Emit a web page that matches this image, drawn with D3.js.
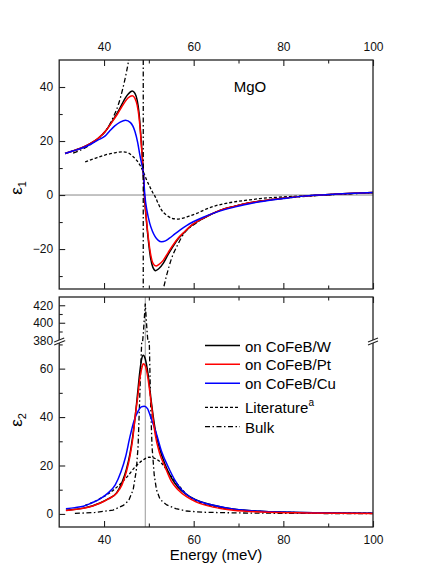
<!DOCTYPE html>
<html>
<head>
<meta charset="utf-8">
<script src="https://cdn.jsdelivr.net/npm/d3@7"></script>
<style>
  body { margin: 0; background: #fff; }
  svg { font-family: Arial, "Liberation Sans", sans-serif; }
</style>
</head>
<body>
<div id="chart"></div>
<script>

const e1W = [[31.3,15.4],[33,16.3],[34.8,17.3],[36.8,18.9],[38.7,21],[40.3,23.6],[41.7,27.0],[43,30.5],[43.9,33.3],[44.7,35.8],[45.4,37.4],[46.3,38.5],[46.9,37.6],[47.4,35.0],[47.8,30.5],[48.1,24.5],[48.4,17.5],[48.75,8.6],[49.0,0],[49.4,-8.5],[49.9,-17],[50.4,-23.5],[50.9,-26.8],[51.5,-28],[52.2,-27.3],[53.2,-25.3],[54.3,-22],[55.4,-19],[56.5,-16.3],[57.7,-14.2],[59.9,-10.8],[61.1,-9.6],[63.6,-7.4],[66,-5.6],[68.8,-4.3],[72.5,-2.9],[76.3,-1.9],[80,-1.2],[84,-0.5],[88,0],[92,0.35],[96,0.65],[100,0.9]];
const e1Pt = [[31.3,15.4],[33,16.3],[34.8,17.3],[36.8,18.9],[38.7,21],[40.3,23.6],[41.7,26.8],[43,30],[43.9,32.5],[44.7,34.6],[45.4,36],[46.3,36.8],[46.9,35.8],[47.4,33.2],[47.8,29],[48.1,23.5],[48.4,17],[48.75,8.6],[49.0,0.5],[49.4,-8],[49.9,-16],[50.4,-22],[50.9,-25.2],[51.6,-26.3],[52.2,-25.8],[53.2,-24.2],[54.3,-21.3],[55.4,-18.5],[56.5,-16],[57.7,-14],[59.9,-10.7],[61.1,-9.5],[63.6,-7.3],[66,-5.6],[68.8,-4.3],[72.5,-2.9],[76.3,-1.9],[80,-1.2],[84,-0.5],[88,0],[92,0.35],[96,0.65],[100,0.9]];
const e1Cu = [[31.3,15.4],[33,16.3],[34.8,17.2],[36.8,18.6],[38.7,20.4],[40.2,21.8],[41.3,23.8],[42.4,25.6],[43.6,27],[44.8,27.7],[45.9,26.8],[46.9,23.5],[47.5,19.5],[48.0,14.8],[48.4,11.5],[48.75,8.6],[49.1,0],[49.6,-6],[50.2,-10.5],[50.8,-13.4],[51.4,-15.4],[52.1,-16.8],[52.85,-17.3],[53.7,-17],[54.6,-16],[55.8,-14.4],[57,-12.9],[58.4,-11.3],[59.9,-9.9],[62,-8.3],[64.3,-6.8],[66.9,-5.4],[69.6,-4.3],[72.2,-3.3],[74.8,-2.5],[80,-1.3],[84,-0.5],[88,0],[92,0.35],[96,0.65],[100,0.9]];
const e1Lit = [[35.8,12.3],[38,13.6],[40.2,14.8],[42.3,15.6],[44.3,16.0],[45.5,15.5],[46.5,14.2],[47.3,12.8],[48,11.1],[48.75,8.6],[49.5,5.6],[50.2,3.1],[50.8,1.1],[51.4,-0.6],[52.1,-3.2],[52.85,-5.6],[53.9,-7.4],[55.1,-8.6],[56.2,-8.9],[57.3,-8.7],[59,-7.8],[60.7,-6.8],[62.5,-5.4],[64.4,-4.2],[66.9,-3.2],[69.6,-2.4],[72.5,-1.8],[74.8,-1.3],[78,-0.9],[83.7,-0.4],[88,-0.05],[92,0.3],[96,0.6],[100,0.9]];
const e1BulkLow = [[33.1,15.5],[35,16.8],[37,18.7],[39,21.3],[40.5,24],[42,28.6],[43.2,33.5],[44.2,39.5],[45,45.5],[45.6,51],[46,56]];
const e1BulkHigh = [[52.8,-38],[53.2,-35],[54,-29.5],[55,-23.8],[56.5,-18.2],[58,-13.8],[60,-11.0],[62.5,-8.3],[65,-6.3],[70,-3.8],[75,-2.2],[80,-1.2],[85,-0.5],[90,0.05],[95,0.45],[100,0.8]];
const bulkPole = 48.75;

/* eps2 (imaginary part) */
const e2W = [[31.5,1.5],[33.5,1.9],[35.4,2.4],[37.5,3.4],[39.1,4.5],[41,6.3],[42.8,8.7],[44,13],[45,18.5],[45.8,25],[46.4,32],[47,41],[47.5,50],[48,59],[48.4,64],[48.75,65.5],[49.2,64],[49.8,58],[50.5,47],[51.4,35],[52.4,27],[53.6,20.5],[55,15],[56.5,11],[58.4,8.0],[60.3,6.0],[64.4,3.6],[68.8,2.0],[75,1.1],[83.7,0.55],[100,0.25]];
const e2Pt = [[31.5,1.4],[33.5,1.8],[35.4,2.3],[37.5,3.3],[39.1,4.4],[41,6.2],[42.8,8.5],[44,12],[45,17.5],[45.8,24],[46.4,31],[47,41],[47.5,48],[48,56],[48.4,60],[48.75,62],[49.2,61.2],[49.8,56],[50.5,46],[51.4,33],[52.4,25],[53.6,19.5],[55,13.5],[56.5,10],[58.4,7.1],[60.5,5],[64.4,2.8],[68.8,1.5],[75,0.8],[85,0.4],[100,0.2]];
const e2Cu = [[31.5,2.1],[33.5,2.6],[35.4,3.2],[37.2,4.5],[39.1,6.2],[41,8.8],[42.5,12],[43.8,17.5],[44.8,23.5],[45.8,32],[46.7,38.5],[47.6,42.5],[48.3,44.2],[49.0,44.5],[49.7,43.5],[50.5,39.5],[51.7,33],[52.8,26],[54.3,19.5],[55.8,14],[57.3,10],[58.8,7.5],[60.3,5.9],[62.5,4.4],[64.4,3.6],[68.8,2.0],[75,1.1],[83.7,0.55],[100,0.25]];
const e2Lit = [[35.8,3.5],[37.5,4.8],[39.3,6.5],[42.2,10],[45,15],[47,19.5],[48.5,22],[50.1,23.4],[51.5,22.8],[52.9,20.8],[55,15.5],[57,11],[58.8,7.5],[61.8,4.5],[65,2.8],[70,1.6],[80,0.7],[90,0.4],[100,0.3]];
const e2Bulk = [[33.5,0.2],[38,0.6],[42,1.6],[44.3,3.5],[45.5,5.5],[46.5,10],[47.2,18],[47.6,28],[48.0,50],[48.4,71],[48.6,200],[48.8,390],[49.2,422],[49.6,390],[49.8,200],[50.1,71],[50.4,45],[50.7,28],[51.2,16],[51.7,10],[52.5,6],[54,3.7],[56,2.2],[58.4,1.2],[62,0.7],[70,0.4],[80,0.25],[100,0.1]];
const e2Center = 49.2;

const xMajor = [40, 60, 80, 100];
const xMinor = [50, 70, 90];
const y1Major = [-20, 0, 20, 40];
const y1Minor = [-30, -10, 10, 30];
const y2LoMajor = [0, 20, 40, 60];
const y2LoMinor = [10, 30, 50, 70];
const y2HiMajor = [380, 400, 420];
const y2HiMinor = [390, 410];

const legendNames = ["on CoFeB/W", "on CoFeB/Pt", "on CoFeB/Cu", "Literature", "Bulk"];

/* layout */
let W = 436, H = 564;
let pL = 59.2, pR = 373;
let top1 = 60, bot1 = 289;
let top2 = 297, bot2 = 527, brk = 342;

const dashed = "3,2";
const dashDot = "5,2.5,1.5,2.5";

let x = d3.scaleLinear().domain([30, 100]).range([pL, pR]);
let y1 = d3.scaleLinear().domain([-34.8, 50]).range([bot1, top1]);
let y2lo = d3.scaleLinear().domain([-5.4, 71]).range([bot2, brk]);
let y2hi = d3.scaleLinear().domain([378, 430]).range([brk, top2 - 0.5]);

// broken axis: lower and upper segments meet at the break line
function y2(v) {
  if (v <= 71) return y2lo(v);
  if (v >= 378) return y2hi(v);
  return brk;
}

let svg = d3.select("#chart").append("svg")
  .attr("width", W).attr("height", H);

let defs = svg.append("defs");
defs.append("clipPath").attr("id", "clip1")
  .append("rect").attr("x", pL).attr("y", top1).attr("width", pR - pL).attr("height", bot1 - top1);
defs.append("clipPath").attr("id", "clip2")
  .append("rect").attr("x", pL).attr("y", top2).attr("width", pR - pL).attr("height", bot2 - top2);

/* ---------- top panel ---------- */
let g1 = svg.append("g").attr("clip-path", "url(#clip1)");

g1.append("line")
  .attr("x1", pL).attr("x2", pR).attr("y1", y1(0)).attr("y2", y1(0))
  .attr("stroke", "#888").attr("stroke-width", 1);

let line1 = d3.line().x(d => x(d[0])).y(d => y1(d[1])).curve(d3.curveMonotoneX);

let top1Series = [
  {data: e1Lit, color: "#000", dash: dashed, w: 1.3},
  {data: e1BulkLow, color: "#000", dash: dashDot, w: 1.3},
  {data: e1BulkHigh, color: "#000", dash: dashDot, w: 1.3},
  {data: e1W, color: "#000", dash: null, w: 1.5},
  {data: e1Pt, color: "#ff0000", dash: null, w: 1.5},
  {data: e1Cu, color: "#0000ff", dash: null, w: 1.5}
];
top1Series.forEach(s => {
  g1.append("path").datum(s.data)
    .attr("d", line1)
    .attr("fill", "none")
    .attr("stroke", s.color)
    .attr("stroke-width", s.w)
    .attr("stroke-dasharray", s.dash);
});

g1.append("line")
  .attr("x1", x(bulkPole)).attr("x2", x(bulkPole))
  .attr("y1", top1).attr("y2", bot1)
  .attr("stroke", "#000").attr("stroke-width", 1.3)
  .attr("stroke-dasharray", dashDot);

/* ---------- bottom panel ---------- */
let g2 = svg.append("g").attr("clip-path", "url(#clip2)");

g2.append("line")
  .attr("x1", x(e2Center)).attr("x2", x(e2Center))
  .attr("y1", top2).attr("y2", bot2)
  .attr("stroke", "#999").attr("stroke-width", 1);

let line2 = d3.line().x(d => x(d[0])).y(d => y2(d[1])).curve(d3.curveMonotoneX);

let bot2Series = [
  {data: e2Lit, color: "#000", dash: dashed, w: 1.3},
  {data: e2Bulk, color: "#000", dash: dashDot, w: 1.3},
  {data: e2W, color: "#000", dash: null, w: 1.5},
  {data: e2Cu, color: "#0000ff", dash: null, w: 1.5},
  {data: e2Pt, color: "#ff0000", dash: null, w: 1.5}
];
bot2Series.forEach(s => {
  g2.append("path").datum(s.data)
    .attr("d", s.data === e2Bulk ? line2.curve(d3.curveLinear) : line2.curve(d3.curveMonotoneX))
    .attr("fill", "none")
    .attr("stroke", s.color)
    .attr("stroke-width", s.w)
    .attr("stroke-dasharray", s.dash);
});

/* ---------- axes ---------- */
function addAxis(axis, tx, ty) {
  let a = svg.append("g")
    .attr("transform", `translate(${tx},${ty})`)
    .call(axis);
  a.select(".domain").remove();
  a.selectAll("line").attr("stroke", "#222").attr("stroke-width", 1.1);
  a.selectAll("text").attr("font-size", 12).attr("fill", "#111")
    .attr("font-family", "Arial, 'Liberation Sans', sans-serif");
  return a;
}

// top panel: labels along the top edge
addAxis(d3.axisTop(x).tickValues(xMajor).tickSizeInner(-6).tickSizeOuter(0).tickPadding(9), 0, top1);
addAxis(d3.axisTop(x).tickValues(xMinor).tickSizeInner(-3.5).tickSizeOuter(0).tickFormat(""), 0, top1);
addAxis(d3.axisBottom(x).tickValues(xMajor).tickSizeInner(-6).tickSizeOuter(0).tickFormat(""), 0, bot1);
addAxis(d3.axisBottom(x).tickValues(xMinor).tickSizeInner(-3.5).tickSizeOuter(0).tickFormat(""), 0, bot1);
addAxis(d3.axisLeft(y1).tickValues(y1Major).tickSizeInner(-6).tickSizeOuter(0).tickPadding(6), pL, 0);
addAxis(d3.axisLeft(y1).tickValues(y1Minor).tickSizeInner(-3.5).tickSizeOuter(0).tickFormat(""), pL, 0);

// bottom panel
addAxis(d3.axisTop(x).tickValues(xMajor).tickSizeInner(-6).tickSizeOuter(0).tickFormat(""), 0, top2);
addAxis(d3.axisTop(x).tickValues(xMinor).tickSizeInner(-3.5).tickSizeOuter(0).tickFormat(""), 0, top2);
addAxis(d3.axisBottom(x).tickValues(xMajor).tickSizeInner(-6).tickSizeOuter(0).tickPadding(8), 0, bot2);
addAxis(d3.axisBottom(x).tickValues(xMinor).tickSizeInner(-3.5).tickSizeOuter(0).tickFormat(""), 0, bot2);
addAxis(d3.axisLeft(y2lo).tickValues(y2LoMajor).tickSizeInner(-6).tickSizeOuter(0).tickPadding(6), pL, 0);
addAxis(d3.axisLeft(y2lo).tickValues(y2LoMinor).tickSizeInner(-3.5).tickSizeOuter(0).tickFormat(""), pL, 0);
addAxis(d3.axisLeft(y2hi).tickValues(y2HiMajor).tickSizeInner(-6).tickSizeOuter(0).tickPadding(6), pL, 0);
addAxis(d3.axisLeft(y2hi).tickValues(y2HiMinor).tickSizeInner(-3.5).tickSizeOuter(0).tickFormat(""), pL, 0);

// frames
[[top1, bot1], [top2, bot2]].forEach(p => {
  svg.append("rect")
    .attr("x", pL).attr("y", p[0])
    .attr("width", pR - pL).attr("height", p[1] - p[0])
    .attr("fill", "none").attr("stroke", "#222").attr("stroke-width", 1.3);
});

// axis break marks on both sides
[pL, pR].forEach(bx => {
  svg.append("polygon")
    .attr("points", `${bx-5},${brk+3} ${bx+5},${brk-1} ${bx+5},${brk-4} ${bx-5},${brk}`)
    .attr("fill", "#fff");
  [0, 3].forEach(o => {
    svg.append("line")
      .attr("x1", bx - 5).attr("y1", brk + o)
      .attr("x2", bx + 5).attr("y2", brk + o - 4)
      .attr("stroke", "#222").attr("stroke-width", 1.1);
  });
});

/* ---------- labels ---------- */
svg.append("text")
  .attr("x", 250).attr("y", 92)
  .attr("text-anchor", "middle").attr("font-size", 15)
  .text("MgO");

svg.append("text")
  .attr("x", (pL + pR) / 2).attr("y", 559.5)
  .attr("text-anchor", "middle").attr("font-size", 15)
  .text("Energy (meV)");

[[188, "1"], [420, "2"]].forEach(l => {
  let t = svg.append("text")
    .attr("transform", `translate(22,${l[0]}) rotate(-90)`)
    .attr("text-anchor", "middle")
    .attr("font-size", 17);
  t.append("tspan").text("ε");
  t.append("tspan").attr("font-size", 11).attr("dy", 4).text(l[1]);
});

/* ---------- legend ---------- */
let legendRows = [
  {y: 345.5, color: "#000", dash: null},
  {y: 364.3, color: "#ff0000", dash: null},
  {y: 383.3, color: "#0000ff", dash: null},
  {y: 407.3, color: "#000", dash: dashed},
  {y: 426.7, color: "#000", dash: dashDot}
];
let legend = svg.append("g");
legendRows.forEach((r, i) => {
  legend.append("line")
    .attr("x1", 205).attr("x2", 240)
    .attr("y1", r.y).attr("y2", r.y)
    .attr("stroke", r.color)
    .attr("stroke-width", r.dash ? 1.3 : 1.5)
    .attr("stroke-dasharray", r.dash);
  let t = legend.append("text")
    .attr("x", 245).attr("y", r.y + 6)
    .attr("font-size", 15)
    .text(legendNames[i]);
  if (i === 3) {
    t.append("tspan").attr("font-size", 10).attr("dy", -7).text("a");
  }
});

</script>
</body>
</html>
